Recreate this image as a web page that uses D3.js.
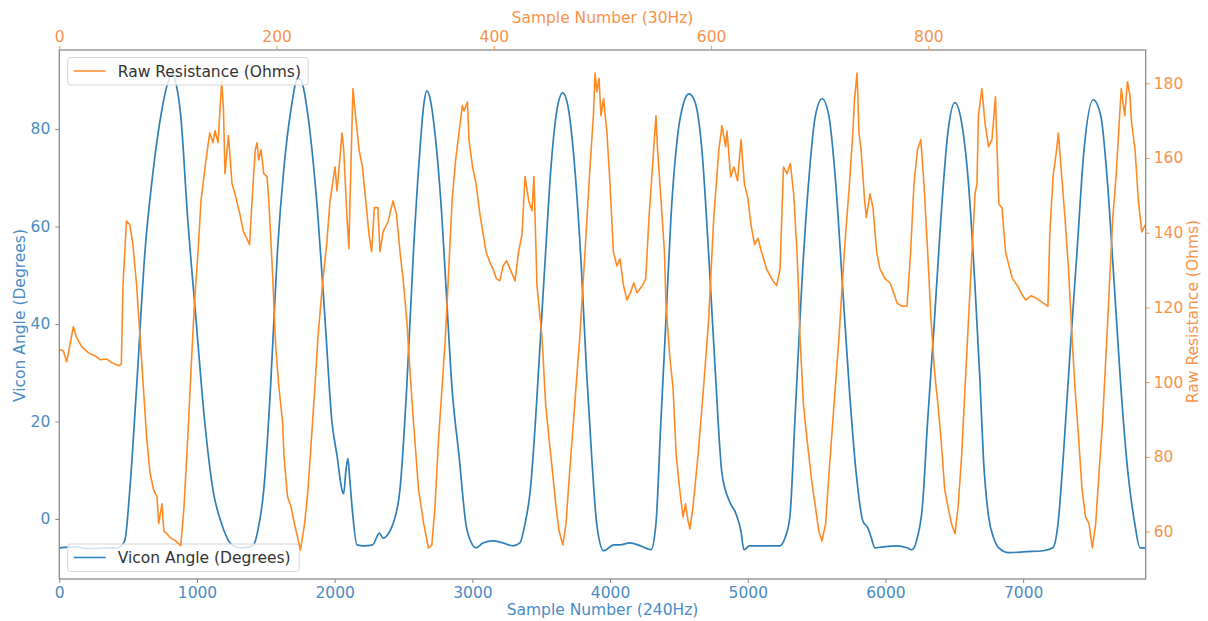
<!DOCTYPE html>
<html>
<head>
<meta charset="utf-8">
<script src="https://cdn.jsdelivr.net/npm/d3@7"></script>
<style>
  body { margin: 0; background: #fff; }
  text { font-family: "DejaVu Sans", sans-serif; }
</style>
</head>
<body>
<svg id="chart" width="1208" height="621"></svg>
<script>
// tick labels
var bottomTicks = [0, 1000, 2000, 3000, 4000, 5000, 6000, 7000];
var topTicks = [0, 200, 400, 600, 800];
var leftTicks = [0, 20, 40, 60, 80];
var rightTicks = [60, 80, 100, 120, 140, 160, 180];

// Vicon angle, sampled at 240Hz (bottom axis / left axis)
var viconSample = [0,114,223,332,426,475,512,561,622,685,746,785,818,850,882,932,993,1056,1116,1179,1254,1312,1385,1411,1443,1485,1534,1584,1632,1683,1733,1765,1806,1879,1930,1980,2017,2053,2065,2082,2096,2110,2126,2162,2213,2275,2325,2351,2387,2423,2474,2523,2572,2619,2645,2670,2698,2728,2779,2815,2852,2903,2953,3001,3026,3077,3150,3222,3295,3345,3382,3421,3458,3495,3532,3571,3619,3656,3694,3743,3792,3829,3866,3903,3953,4027,4072,4144,4221,4297,4333,4369,4406,4442,4493,4537,4573,4616,4667,4715,4764,4812,4863,4914,4950,4972,5012,5088,5161,5233,5270,5306,5342,5392,5441,5491,5540,5589,5639,5688,5737,5787,5836,5872,5898,5923,5984,6083,6156,6192,6231,6268,6306,6356,6403,6453,6504,6553,6603,6650,6686,6712,6749,6786,6823,6897,7020,7144,7216,7253,7292,7340,7391,7442,7509,7564,7613,7662,7710,7761,7811,7848,7885];
var viconAngle = [-5.9,-5.7,-6.1,-5.9,-5.9,-4.5,6.0,26.9,54.8,72.2,84.1,89.2,91.3,89.0,82.7,61.8,40.9,20.0,6.0,-1.0,-5.3,-5.9,-5.7,-5.3,-2.2,6.0,26.9,54.8,72.2,84.1,90.5,89.3,82.7,61.8,40.9,20.0,13.0,6.0,5.2,10.1,12.4,8.0,2.5,-5.3,-5.5,-5.3,-2.9,-3.9,-3.1,-1.0,6.0,26.9,54.8,75.7,84.5,87.8,85.5,79.2,61.8,44.3,26.9,13.0,-1.0,-5.3,-5.9,-4.9,-4.5,-4.9,-5.5,-4.9,-1.0,6.0,20.0,37.4,54.8,72.2,84.7,87.4,84.7,72.2,51.3,30.4,13.0,-1.0,-6.5,-5.3,-5.3,-4.9,-5.5,-6.3,-1.0,20.0,40.9,61.8,79.2,85.6,87.2,85.6,75.7,54.8,30.4,9.5,3.9,1.1,-2.4,-6.3,-5.5,-5.5,-5.5,-5.5,-3.9,0.5,20.0,47.9,68.8,82.7,86.2,82.7,68.8,47.9,26.9,9.5,-0.4,-1.8,-3.9,-5.9,-5.7,-5.5,-5.9,-6.3,-3.9,2.5,20.0,40.9,61.8,79.2,85.4,81.3,68.8,47.9,28.6,12.2,0.5,-3.9,-5.9,-6.9,-6.7,-6.5,-5.9,-1.0,13.0,33.9,54.8,75.7,86.0,82.7,68.8,47.9,26.9,9.5,-1.0,-5.9,-5.9];

// raw resistance, sampled at 30Hz (top axis / right axis)
var resSample = [0,3.7,6.8,12.9,16.0,20.6,26.7,32.9,37.5,43.6,48.2,55.2,57.1,58.6,61.8,64.9,67.8,71.2,74.3,77.4,80.5,83.5,86.8,89.9,91.5,94.5,96.2,99.1,102.4,107.1,111.8,114.8,118.2,121.2,124.4,127.7,130.4,135.0,138.5,141.5,143.3,146.1,149.5,151.1,152.5,155.7,159.0,161.7,166.3,169.5,172.6,175.1,177.4,180.4,182.0,183.5,185.7,188.2,191.2,193.0,196.1,199.2,202.2,205.5,206.8,210.1,213.3,216.4,219.5,222.0,225.8,228.9,232.1,235.2,238.1,242.7,246.1,249.2,253.8,255.6,257.1,260.2,261.8,264.8,266.5,268.0,270.3,272.7,275.9,279.0,282.1,285.1,287.5,290.0,293.2,295.2,298.0,302.6,307.2,310.4,313.6,316.4,319.8,322.8,326.0,330.7,335.4,339.8,342.9,345.8,349.1,352.3,355.4,358.5,361.5,364.8,367.9,371.0,372.5,375.7,377.1,380.4,383.6,386.7,389.8,392.8,396.1,399.2,402.3,405.5,408.4,411.7,414.9,419.5,422.7,425.9,428.7,432.1,435.1,436.9,439.7,444.3,447.7,450.8,454.1,457.2,460.0,463.5,466.4,469.7,474.4,479.1,483.9,488.5,491.6,493.1,494.8,496.8,498.6,501.0,504.1,506.9,510.0,513.2,516.1,519.4,522.5,525.7,528.8,531.8,536.6,539.8,542.8,546.0,549.2,550.7,553.9,557.0,558.4,561.7,564.9,567.9,571.1,574.1,576.4,578.7,580.5,583.3,587.9,593.0,597.7,602.4,607.1,610.0,613.3,614.6,618.0,621.0,624.3,627.5,630.6,633.7,636.7,640.0,643.1,646.3,651.0,655.6,660.3,663.4,666.6,669.8,672.9,676.0,679.0,680.3,681.8,685.0,688.2,692.8,696.0,699.1,702.0,705.4,708.5,713.1,717.7,722.6,727.3,730.4,732.0,734.3,736.1,738.0,741.3,742.9,746.2,749.0,752.3,755.4,760.0,764.6,768.0,771.1,775.7,780.3,783.6,786.7,789.9,793.0,795.9,799.3,802.4,805.6,808.8,811.6,815.0,818.0,821.2,824.5,827.3,830.6,833.7,836.9,840.1,842.9,844.7,846.0,849.2,852.1,855.4,858.5,861.7,864.8,867.7,871.0,874.2,877.3,882.0,886.7,889.8,894.4,899.0,905.5,910.0,911.7,914.7,918.0,919.6,922.7,925.7,928.9,932.2,934.9,938.3,941.4,944.6,947.8,950.9,954.0,957.0,960.3,963.5,966.6,969.7,972.7,976.0,977.5,980.7,983.2,985.5,987.0,990.2,993.3,996.4,999.4];
var resOhms = [108.7,108.4,105.4,114.8,111.9,109.5,107.9,107.0,106.0,106.2,105.2,104.4,104.9,125.8,143.1,142.1,136.8,125.8,112.1,98.5,84.8,75.7,71.2,69.3,62.1,67.4,60.2,59.4,58.3,57.5,56.2,66.6,84.8,103.0,121.2,134.9,148.5,159.5,166.7,164.1,167.3,164.1,180.4,173.2,155.8,166.0,153.1,150.4,144.9,140.3,138.5,136.8,148.5,162.2,164.1,159.5,162.2,155.8,155.0,147.7,130.3,109.5,98.5,89.4,80.3,69.3,66.6,62.1,58.3,55.1,62.1,71.2,84.8,98.5,112.1,127.7,136.8,148.5,157.6,151.2,155.8,166.7,162.2,144.0,135.7,153.1,178.6,171.3,162.2,157.6,148.5,139.5,134.9,146.7,146.7,134.9,140.2,143.0,148.5,144.9,134.9,127.7,116.7,103.0,89.4,71.2,62.1,55.6,56.4,66.6,84.8,98.5,112.1,130.3,148.5,159.5,166.7,174.0,172.6,175.0,164.9,157.6,153.1,145.9,140.2,134.9,132.2,130.3,127.7,127.1,131.1,132.5,130.3,127.1,134.9,139.5,155.0,148.5,145.9,155.0,125.8,112.1,93.9,84.8,75.7,66.6,60.2,56.4,62.1,75.7,93.9,112.1,134.9,157.6,171.3,182.7,177.7,181.3,171.3,175.9,166.7,153.1,134.9,131.1,133.0,125.8,122.0,123.9,126.6,123.9,125.8,127.7,144.0,157.6,171.3,162.2,148.5,134.9,121.2,107.6,98.5,80.3,71.2,63.9,67.4,62.9,60.7,66.6,80.3,98.5,116.7,144.0,162.2,168.6,163.0,167.2,155.0,157.6,153.9,164.9,153.1,149.4,142.1,136.8,138.5,134.9,130.3,127.7,125.8,130.3,157.6,155.8,158.5,150.4,134.9,125.8,112.1,93.9,84.8,73.0,66.6,60.2,57.5,62.1,75.7,93.9,112.1,134.9,153.1,166.7,175.9,182.7,166.7,162.2,148.5,144.0,150.4,146.7,134.9,130.3,127.7,126.6,123.9,121.2,120.3,120.3,134.9,153.1,162.2,164.9,153.1,134.9,116.7,103.0,93.9,84.8,71.2,66.6,62.1,59.4,66.6,80.3,98.5,116.7,134.9,150.4,153.1,171.3,178.6,169.4,163.0,164.9,176.4,147.7,146.7,134.9,131.1,127.7,125.8,123.1,122.0,123.1,122.5,121.2,120.3,139.5,155.0,162.2,166.7,155.0,144.0,130.3,112.1,98.5,84.8,71.2,63.9,62.1,55.6,62.1,75.7,89.4,107.6,125.8,144.0,155.0,171.3,178.6,171.3,180.4,176.8,169.4,162.2,148.5,140.2,142.0];

var blue = "#2f7fba", orange = "#ff8a24";
var blueText = "#4a8cc4", orangeText = "#f7934a";
var frame = "#8a8a8a";

var margin = { top: 50, right: 62.3, bottom: 42, left: 59.3 },
    width = 1208 - margin.left - margin.right,
    height = 621 - margin.top - margin.bottom;

var xB = d3.scaleLinear().domain([0, 7890]).range([0, width]);
var xT = d3.scaleLinear().domain([0, 1000]).range([0, width]);
var yL = d3.scaleLinear().domain([-12.3, 96.2]).range([height, 0]);
var yR = d3.scaleLinear().domain([47.3, 188.9]).range([height, 0]);

var svg = d3.select("#chart").append("g")
    .attr("transform", "translate(" + margin.left + "," + margin.top + ")");

svg.append("defs").append("clipPath").attr("id", "clip")
    .append("rect").attr("width", width).attr("height", height);

var vicon = viconSample.map(function (s, i) { return [s, viconAngle[i]]; });
var res = resSample.map(function (s, i) { return [s, resOhms[i]]; });

// blue line (first axes)
svg.append("path")
    .datum(vicon)
    .attr("clip-path", "url(#clip)")
    .attr("fill", "none")
    .attr("stroke", blue)
    .attr("stroke-width", 1.7)
    .attr("stroke-linejoin", "round")
    .attr("d", d3.line()
        .x(function (d) { return xB(d[0]); })
        .y(function (d) { return yL(d[1]); })
        .curve(d3.curveMonotoneX));

function legend(x, y, w, label, color) {
    var g = svg.append("g").attr("transform", "translate(" + x + "," + y + ")");
    g.append("rect")
        .attr("width", w).attr("height", 27.5).attr("rx", 3)
        .attr("fill", "#fff").attr("fill-opacity", 0.8)
        .attr("stroke", "#d6d6d6").attr("stroke-width", 1);
    g.append("line")
        .attr("x1", 6).attr("x2", 38).attr("y1", 13.5).attr("y2", 13.5)
        .attr("stroke", color).attr("stroke-width", 1.7);
    g.append("text")
        .attr("x", 50).attr("y", 19)
        .attr("fill", "#333").style("font-size", "15.5px")
        .text(label);
    return g;
}

// legend of the first axes sits under the twin axes line
legend(8.4, 494, 231.5, "Vicon Angle (Degrees)", blue);

// orange line (twin axes)
svg.append("path")
    .datum(res)
    .attr("clip-path", "url(#clip)")
    .attr("fill", "none")
    .attr("stroke", orange)
    .attr("stroke-width", 1.6)
    .attr("stroke-linejoin", "round")
    .attr("d", d3.line()
        .x(function (d) { return xT(d[0]); })
        .y(function (d) { return yR(d[1]); }));

legend(8.4, 7.5, 240.5, "Raw Resistance (Ohms)", orange);

// frame
svg.append("rect")
    .attr("width", width).attr("height", height)
    .attr("fill", "none").attr("stroke", frame).attr("stroke-width", 1.3);

// axes
function styleAxis(g, tickColor, textColor) {
    g.select(".domain").remove();
    g.selectAll(".tick line").attr("stroke", tickColor).attr("stroke-width", 1);
    g.selectAll(".tick text").attr("fill", textColor)
        .style("font-size", "15.5px").style("font-family", "DejaVu Sans, sans-serif");
}

var plain = d3.format("d");

svg.append("g")
    .attr("transform", "translate(0," + height + ")")
    .call(d3.axisBottom(xB).tickValues(bottomTicks).tickFormat(plain).tickSize(4).tickPadding(4))
    .call(styleAxis, frame, blueText);

svg.append("g")
    .call(d3.axisTop(xT).tickValues(topTicks).tickFormat(plain).tickSize(4).tickPadding(4))
    .call(styleAxis, orangeText, orangeText);

svg.append("g")
    .call(d3.axisLeft(yL).tickValues(leftTicks).tickFormat(plain).tickSize(4).tickPadding(5))
    .call(styleAxis, frame, blueText);

svg.append("g")
    .attr("transform", "translate(" + width + ",0)")
    .call(d3.axisRight(yR).tickValues(rightTicks).tickFormat(plain).tickSize(4).tickPadding(4))
    .call(styleAxis, orangeText, orangeText);

// axis titles
svg.append("text")
    .attr("x", width / 2).attr("y", height + 36)
    .attr("text-anchor", "middle").attr("fill", blueText)
    .style("font-size", "15.5px")
    .text("Sample Number (240Hz)");

svg.append("text")
    .attr("x", width / 2).attr("y", -27)
    .attr("text-anchor", "middle").attr("fill", orangeText)
    .style("font-size", "15.5px")
    .text("Sample Number (30Hz)");

svg.append("text")
    .attr("transform", "translate(-34," + (height / 2 + 1) + ") rotate(-90)")
    .attr("text-anchor", "middle").attr("fill", blueText)
    .style("font-size", "15.5px")
    .text("Vicon Angle (Degrees)");

svg.append("text")
    .attr("transform", "translate(" + (width + 52) + "," + (height / 2 - 3) + ") rotate(-90)")
    .attr("text-anchor", "middle").attr("fill", orangeText)
    .style("font-size", "15.5px")
    .text("Raw Resistance (Ohms)");
</script>
</body>
</html>
